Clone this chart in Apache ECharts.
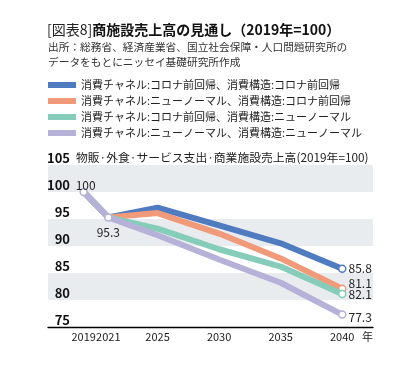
<!DOCTYPE html>
<html><head><meta charset="utf-8">
<script src="https://cdn.jsdelivr.net/npm/echarts@6/dist/echarts.min.js"></script>
<style>html,body{margin:0;padding:0;background:#fff}#c{width:418px;height:371px}</style>
</head><body><div id="c"></div>
<script>
var years = [2019, 2021, 2025, 2030, 2035, 2040];
var seriesNames = [
  '消費チャネル:コロナ前回帰、消費構造:コロナ前回帰',
  '消費チャネル:ニューノーマル、消費構造:コロナ前回帰',
  '消費チャネル:コロナ前回帰、消費構造:ニューノーマル',
  '消費チャネル:ニューノーマル、消費構造:ニューノーマル'
];
var blueVals = [100, 95.3, 97.1, 93.8, 90.5, 85.8];
var orangeVals = [100, 95.3, 96.1, 92.3, 87.7, 82.1];
var tealVals = [100, 95.3, 93.2, 89.4, 86.2, 81.1];
var lavenderVals = [100, 95.3, 92.0, 87.5, 83.2, 77.3];
var endLabels = ['85.8', '81.1', '82.1', '77.3'];
var xTickLabels = [2019, 2021, 2025, 2030, 2035, 2040];

var colors = ['#4f7bc1', '#f09a79', '#86cdb9', '#b5b1d8'];
var FONT = '"Noto Sans CJK JP", "Noto Sans", sans-serif';
var allVals = [blueVals, orangeVals, tealVals, lavenderVals];
var endOffsets = [[0, 0], [0, -5], [0, 0], [0, 3]];

var series = allVals.map(function (vals, si) {
  var last = vals.length - 1;
  return {
    name: seriesNames[si],
    type: 'line',
    data: vals.map(function (v, i) {
      var item = { value: [years[i], v] };
      if (i === last) {
        item.label = { show: true, position: 'right', distance: 2, offset: endOffsets[si], formatter: endLabels[si] };
      } else if (si === 3 && i === 0) {
        item.label = { show: true, position: 'top', distance: 0, offset: [2, 4], formatter: '100' };
      } else if (si === 3 && i === 1) {
        item.label = { show: true, position: 'bottom', distance: 5, formatter: '95.3' };
      }
      return item;
    }),
    lineStyle: { color: colors[si], width: 6 },
    itemStyle: { color: '#fff', borderColor: colors[si], borderWidth: 1.5 },
    symbol: 'circle',
    symbolSize: function (val, p) {
      if (p.dataIndex === last) return 7;
      if (si === 3 && p.dataIndex <= 1) return 7;
      return 0;
    },
    z: 2 + si,
    label: {
      show: false,
      fontFamily: FONT,
      fontSize: 12,
      color: '#222'
    },
    emphasis: { disabled: true },
    animation: false
  };
});

var chart = echarts.init(document.getElementById('c'), null, { renderer: 'canvas' });
chart.setOption({
  animation: false,
  backgroundColor: '#fff',
  textStyle: { fontFamily: FONT },
  title: [
    {
      left: 47, top: 23, padding: 0,
      text: '{n|[図表8]}{b|商施設売上高の見通し（2019年=100）}',
      textStyle: {
        rich: {
          n: { fontFamily: FONT, fontSize: 14, fontWeight: 'normal', color: '#222' },
          b: { fontFamily: FONT, fontSize: 14, fontWeight: 'bold', color: '#111' }
        }
      }
    },
    {
      left: 48, top: 39, padding: 0,
      text: '出所：総務省、経済産業省、国立社会保障・人口問題研究所の\nデータをもとにニッセイ基礎研究所作成',
      textStyle: { fontFamily: FONT, fontSize: 10.7, fontWeight: 'normal', color: '#333', lineHeight: 15 }
    },
    {
      left: 76, top: 152, padding: 0,
      text: '物販·外食·サービス支出·商業施設売上高(2019年=100)',
      textStyle: { fontFamily: FONT, fontSize: 11.8, fontWeight: 'normal', color: '#222' }
    }
  ],
  legend: {
    orient: 'vertical',
    left: 48, top: 78, padding: 0,
    itemWidth: 28, itemHeight: 6,
    itemGap: 2,
    icon: 'rect',
    selectedMode: false,
    data: seriesNames.map(function (n, i) {
      return { name: n, itemStyle: { color: colors[i], borderWidth: 0 } };
    }),
    textStyle: { fontFamily: FONT, fontSize: 11, color: '#222', lineHeight: 14 }
  },
  grid: { left: 48, right: 45, top: 165, bottom: 44 },
  xAxis: {
    type: 'value',
    min: 2016.1, max: 2042.5,
    axisLine: { show: true, lineStyle: { color: '#000', width: 1.3 } },
    axisTick: { show: false },
    splitLine: { show: false },
    axisLabel: {
      customValues: xTickLabels,
      fontFamily: FONT, fontSize: 11, color: '#222', margin: 4,
      formatter: function (v) { return String(v); }
    },
    name: '年',
    nameLocation: 'end',
    nameGap: -11,
    nameTextStyle: { fontFamily: FONT, fontSize: 11, color: '#222', align: 'left', verticalAlign: 'top', padding: [4, 0, 0, 0] }
  },
  yAxis: {
    type: 'value',
    min: 75, max: 105, interval: 5,
    axisLine: { show: false },
    axisTick: { show: false },
    splitLine: { show: false },
    splitArea: { show: true, areaStyle: { color: ['#ffffff', '#e9ecef'] } },
    axisLabel: {
      inside: true, margin: 22, align: 'right', verticalAlign: 'bottom',
      fontFamily: FONT, fontSize: 13, fontWeight: 'bold', color: '#111', lineHeight: 14
    }
  },
  series: series
});
</script></body></html>
